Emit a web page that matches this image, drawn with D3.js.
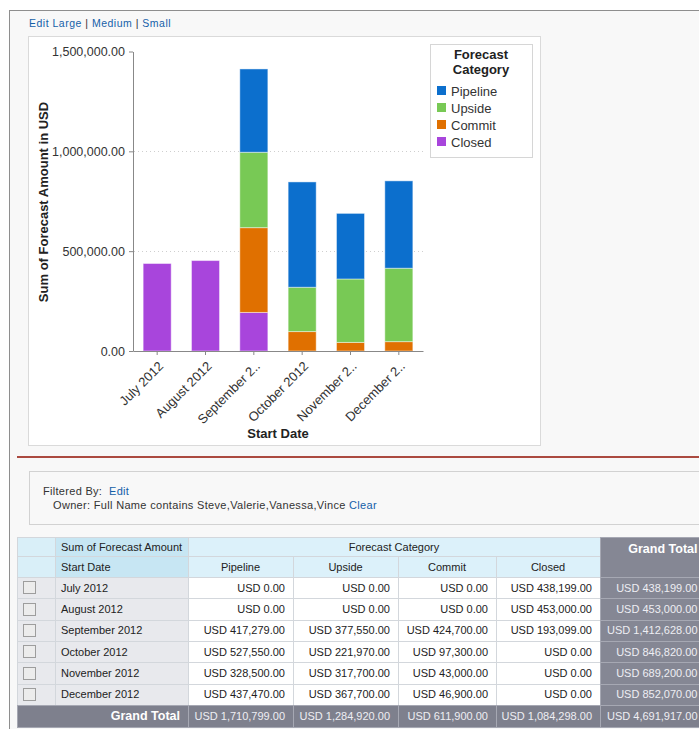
<!DOCTYPE html>
<html>
<head>
<meta charset="utf-8">
<script src="https://cdn.jsdelivr.net/npm/d3@7"></script>
<style>
  body { margin: 0; background: #fff; }
  svg { display: block; font-family: "Liberation Sans", Arial, Helvetica, sans-serif; }
</style>
</head>
<body>
<svg id="page" width="699" height="729"></svg>
<script>
// data
const months = ["July 2012", "August 2012", "September 2012", "October 2012", "November 2012", "December 2012"];
const tickLabels = ["July 2012", "August 2012", "September 2..", "October 2012", "November 2..", "December 2.."];
const categories = ["Pipeline", "Upside", "Commit", "Closed"];
const pipeline = [0, 0, 417279, 527550, 328500, 437470];
const upside = [0, 0, 377550, 221970, 317700, 367700];
const commit = [0, 0, 424700, 97300, 43000, 46900];
const closed = [438199, 453000, 193099, 0, 0, 0];
const yTicks = [0, 500000, 1000000, 1500000];
const colors = ["#0c6fcd", "#78c955", "#e07000", "#a845dc"];
const filterText = "Owner: Full Name contains Steve,Valerie,Vanessa,Vince";

const series = { Pipeline: pipeline, Upside: upside, Commit: commit, Closed: closed };
const rows = months.map((m, i) => {
  const r = { month: m };
  categories.forEach((c) => (r[c] = series[c][i]));
  return r;
});
const color = d3.scaleOrdinal().domain(categories).range(colors);
const fmt = d3.format(",.2f");
const usd = (v) => "USD " + fmt(v);
const linkBlue = "#1560a8";

const svg = d3.select("#page");

// page frame
svg.append("rect").attr("x", 9.5).attr("y", 10.5).attr("width", 700).attr("height", 730)
  .attr("fill", "#f8f8f8").attr("stroke", "#8e8e8e");

const sizeLinks = svg.append("text").attr("x", 29).attr("y", 26.5)
  .attr("font-size", "10.5px").attr("letter-spacing", "0.5px").attr("fill", "#333");
[["Edit", true], [" Large", true], [" | ", false], ["Medium", true], [" | ", false], ["Small", true]]
  .forEach(([t, link]) => sizeLinks.append("tspan").attr("fill", link ? linkBlue : "#333").text(t));

// chart panel
svg.append("rect").attr("x", 28.5).attr("y", 36.5).attr("width", 512).attr("height", 409)
  .attr("fill", "#fff").attr("stroke", "#dadada");

const x = d3.scaleBand().domain(months).range([133, 423]).paddingInner(0.42).paddingOuter(0.21);
const y = d3.scaleLinear().domain([0, 1500000]).range([351, 51.5]);

const gGrid = svg.append("g");
gGrid.selectAll("line")
  .data(yTicks.filter((d) => d > 0 && d < 1500000))
  .join("line")
  .attr("x1", 134).attr("x2", 423)
  .attr("y1", (d) => Math.round(y(d)) + 0.5).attr("y2", (d) => Math.round(y(d)) + 0.5)
  .attr("stroke", "#cfcfcf").attr("stroke-dasharray", "1,3");

const stack = d3.stack().keys(["Closed", "Commit", "Upside", "Pipeline"]);
const layers = stack(rows);

svg.append("g")
  .selectAll("g")
  .data(layers)
  .join("g")
  .attr("fill", (d) => color(d.key))
  .selectAll("rect")
  .data((d) => d.filter((p) => p[1] - p[0] > 0))
  .join("rect")
  .attr("x", (d) => x(d.data.month))
  .attr("width", x.bandwidth())
  .attr("y", (d) => y(d[1]))
  .attr("height", (d) => y(d[0]) - y(d[1]))
  .attr("stroke", "rgba(255,255,255,0.45)")
  .attr("stroke-width", 1);

const gY = svg.append("g").attr("transform", "translate(133,0)")
  .call(d3.axisLeft(y).tickValues(yTicks).tickFormat(fmt).tickSize(4).tickSizeOuter(0).tickPadding(4));
const gX = svg.append("g").attr("transform", "translate(0,351)")
  .call(d3.axisBottom(x).tickSize(4).tickSizeOuter(0).tickFormat((d, i) => tickLabels[i]));

[gY, gX].forEach((g) => {
  g.attr("font-family", null).attr("font-size", null);
  g.select(".domain").attr("stroke", "#888");
  g.selectAll(".tick line").attr("stroke", "#888");
  g.selectAll(".tick text").attr("fill", "#333").style("font-size", "12.5px");
});
gX.selectAll(".tick text")
  .style("font-size", "13px")
  .attr("text-anchor", "end")
  .attr("dy", null)
  .attr("y", null)
  .attr("transform", "translate(7,16) rotate(-45)");

svg.append("text")
  .attr("transform", "translate(48,202) rotate(-90)")
  .attr("text-anchor", "middle").attr("font-weight", "bold").attr("font-size", "13px").attr("fill", "#222")
  .text("Sum of Forecast Amount in USD");
svg.append("text")
  .attr("x", 278).attr("y", 438)
  .attr("text-anchor", "middle").attr("font-weight", "bold").attr("font-size", "13px").attr("fill", "#222")
  .text("Start Date");

// legend
const gLegend = svg.append("g");
gLegend.append("rect").attr("x", 430.5).attr("y", 44.5).attr("width", 102).attr("height", 113)
  .attr("fill", "#fff").attr("stroke", "#d6d6d6");
gLegend.selectAll(".legend-title")
  .data(["Forecast", "Category"])
  .join("text")
  .attr("class", "legend-title")
  .attr("x", 481).attr("y", (d, i) => 59 + i * 15)
  .attr("text-anchor", "middle").attr("font-weight", "bold").attr("font-size", "13px").attr("fill", "#222")
  .text((d) => d);
const items = gLegend.selectAll(".legend-item")
  .data(categories)
  .join("g")
  .attr("class", "legend-item")
  .attr("transform", (d, i) => `translate(437,${91 + i * 17})`);
items.append("rect").attr("x", 0).attr("y", -5).attr("width", 9).attr("height", 9).attr("fill", (d) => color(d));
items.append("text").attr("x", 14).attr("y", 4.5).attr("font-size", "13px").attr("fill", "#333").text((d) => d);

// red divider and filter box
svg.append("line").attr("x1", 17).attr("x2", 699).attr("y1", 457).attr("y2", 457)
  .attr("stroke", "#ab4a40").attr("stroke-width", 2);
svg.append("rect").attr("x", 29.5).attr("y", 471.5).attr("width", 690).attr("height", 53)
  .attr("fill", "#f8f8f8").attr("stroke", "#d2d2d2");
const filtered = svg.append("text").attr("x", 43).attr("y", 494.5).attr("font-size", "11px")
  .attr("letter-spacing", "0.3px").attr("fill", "#333");
filtered.append("tspan").text("Filtered By:");
filtered.append("tspan").attr("x", 109).attr("fill", linkBlue).text("Edit");
const owner = svg.append("text").attr("x", 53).attr("y", 508.5).attr("font-size", "11px")
  .attr("letter-spacing", "0.32px").attr("fill", "#333");
owner.append("tspan").text(filterText + " ");
owner.append("tspan").attr("fill", linkBlue).text("Clear");

// summary table
const colX = [17, 55, 188, 293, 398, 496, 600, 712];
const head1 = 537, head2 = 556, body0 = 577, rowH = 128 / 6, totalY = 705, totalH = 22;
const gTable = svg.append("g").attr("font-size", "11px");
const gt = "#858794";
const rowTotals = months.map((m, i) => d3.sum(categories, (c) => series[c][i]));
const catTotals = categories.map((c) => d3.sum(series[c]));

const headCells = [
  { x0: 0, x1: 1, y0: head1, y1: head2, fill: "#d9eff8" },
  { x0: 1, x1: 2, y0: head1, y1: head2, fill: "#c7e6f3", text: "Sum of Forecast Amount", align: "start" },
  { x0: 2, x1: 6, y0: head1, y1: head2, fill: "#dcf1fa", text: "Forecast Category", align: "middle" },
  { x0: 0, x1: 1, y0: head2, y1: body0, fill: "#d9eff8" },
  { x0: 1, x1: 2, y0: head2, y1: body0, fill: "#c7e6f3", text: "Start Date", align: "start" },
  ...categories.map((c, i) => ({ x0: 2 + i, x1: 3 + i, y0: head2, y1: body0, fill: "#dcf1fa", text: c, align: "middle" })),
];
const bodyCells = [];
months.forEach((m, r) => {
  const y0 = body0 + r * rowH, y1 = y0 + rowH;
  bodyCells.push({ x0: 0, x1: 1, y0, y1, fill: "#e8e9ed", box: true });
  bodyCells.push({ x0: 1, x1: 2, y0, y1, fill: "#e8e9ed", text: m, align: "start" });
  categories.forEach((c, i) =>
    bodyCells.push({ x0: 2 + i, x1: 3 + i, y0, y1, fill: "#fff", text: usd(series[c][r]), align: "end" }));
  bodyCells.push({ x0: 6, x1: 7, y0, y1, fill: gt, text: usd(rowTotals[r]), align: "end", color: "#eeeef3", edge: "#a6a8b3" });
});
bodyCells.push({ x0: 0, x1: 2, y0: totalY, y1: totalY + totalH, fill: "#7e808d", text: "Grand Total", align: "end",
  color: "#fff", bold: true, edge: "#a6a8b3", pad: 8 });
catTotals.concat([d3.sum(catTotals)]).forEach((v, i) =>
  bodyCells.push({ x0: 2 + i, x1: 3 + i, y0: totalY, y1: totalY + totalH, fill: "#7e808d", text: usd(v), align: "end",
    color: "#eeeef3", edge: "#a6a8b3" }));

const cells = gTable.selectAll(".cell")
  .data(headCells.concat(bodyCells))
  .join("g")
  .attr("class", "cell");
cells.append("rect")
  .attr("x", (d) => colX[d.x0] + 0.5).attr("y", (d) => Math.round(d.y0) + 0.5)
  .attr("width", (d) => colX[d.x1] - colX[d.x0]).attr("height", (d) => Math.round(d.y1) - Math.round(d.y0))
  .attr("fill", (d) => d.fill).attr("stroke", (d) => d.edge || "#d3d7dc");
cells.filter((d) => d.text)
  .append("text")
  .attr("x", (d) => d.align === "start" ? colX[d.x0] + 6 : d.align === "end" ? colX[d.x1] - (d.pad || 8) : (colX[d.x0] + colX[d.x1]) / 2)
  .attr("y", (d) => (d.y0 + d.y1) / 2 + 4)
  .attr("text-anchor", (d) => d.align)
  .attr("fill", (d) => d.color || "#222")
  .attr("font-weight", (d) => d.bold ? "bold" : null)
  .style("font-size", (d) => d.bold ? "12.5px" : null)
  .text((d) => d.text);
// grand total column clips at the window edge
cells.filter((d) => d.x0 === 6).select("text").attr("x", 697.5);

cells.filter((d) => d.box)
  .append("rect")
  .attr("x", 23.5).attr("y", (d) => Math.round((d.y0 + d.y1) / 2 - 6.5) + 0.5)
  .attr("width", 12).attr("height", 12)
  .attr("fill", "#ececec").attr("stroke", "#9d9d9d");

// grand total header
const gHead = gTable.append("g");
gHead.append("rect").attr("x", 600.5).attr("y", head1 + 0.5).attr("width", 110).attr("height", body0 - head1)
  .attr("fill", gt).attr("stroke", "#a6a8b3");
gHead.append("text").attr("x", 697.5).attr("y", 552.5).attr("text-anchor", "end")
  .attr("font-weight", "bold").style("font-size", "12.5px").attr("fill", "#fff").text("Grand Total");
</script>
</body>
</html>
